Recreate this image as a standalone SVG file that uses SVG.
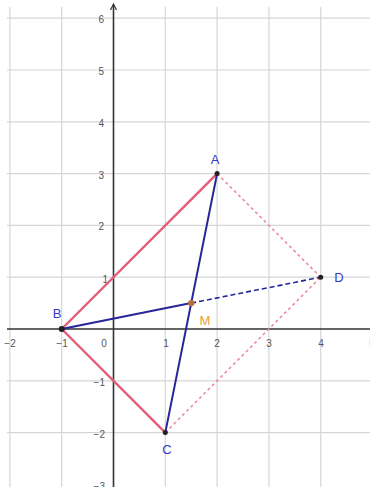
<svg xmlns="http://www.w3.org/2000/svg" width="370" height="487" viewBox="0 0 370 487">
<style>
.grid{stroke:#d6d6d6;stroke-width:1.2;fill:none}
.axis{stroke:#333;stroke-width:1.6;fill:none}
.tick{font-family:"Liberation Sans",Arial,sans-serif;font-size:10px;fill:#555}
.lbl{font-family:"Liberation Sans",Arial,sans-serif;font-size:13px;fill:#3838c8}
.red{stroke:#e35d78;stroke-width:2.4;fill:none}
.blue{stroke:#262698;stroke-width:2;fill:none}
.bluedash{stroke:#262698;stroke-width:1.6;stroke-dasharray:5 3;fill:none}
.pinkdash{stroke:#f08a9c;stroke-width:1.6;stroke-dasharray:3 3;fill:none}
.pt{fill:#222}
</style>
<rect width="370" height="487" fill="#fff"/>
<g id="grid">
<path class="grid" d="M9.9 7V487M61.7 7V487M165.3 7V487M217.1 7V487M268.9 7V487M320.7 7V487M7 18.2H370M7 70H370M7 121.8H370M7 173.6H370M7 225.4H370M7 277.2H370M7 380.8H370M7 432.6H370"/>
</g>
<g id="axes">
<path class="axis" d="M7 329H370M113.5 487V5"/>
<path d="M110.5 10 L113.5 4 L116.5 10" fill="none" stroke="#333" stroke-width="1.2"/>
<text class="tick" x="104" y="23" text-anchor="end">6</text>
<text class="tick" x="104" y="75" text-anchor="end">5</text>
<text class="tick" x="104" y="127" text-anchor="end">4</text>
<text class="tick" x="104" y="179" text-anchor="end">3</text>
<text class="tick" x="104" y="230" text-anchor="end">2</text>
<text class="tick" x="108" y="283" text-anchor="end">1</text>
<text class="tick" x="105" y="386" text-anchor="end">−1</text>
<text class="tick" x="105" y="438" text-anchor="end">−2</text>
<text class="tick" x="105" y="490" text-anchor="end">−3</text>
<text class="tick" x="10" y="347" text-anchor="middle">−2</text>
<text class="tick" x="62" y="347" text-anchor="middle">−1</text>
<text class="tick" x="104" y="347" text-anchor="middle">0</text>
<text class="tick" x="166" y="347" text-anchor="middle">1</text>
<text class="tick" x="217" y="347" text-anchor="middle">2</text>
<text class="tick" x="269" y="347" text-anchor="middle">3</text>
<text class="tick" x="321" y="347" text-anchor="middle">4</text>
<text class="tick" x="372" y="347" text-anchor="middle">5</text>
</g>
<g id="connectors">
<line class="pinkdash" x1="217.1" y1="173.6" x2="320.7" y2="277.2"/>
<line class="pinkdash" x1="165.3" y1="432.6" x2="320.7" y2="277.2"/>
<line class="red" x1="61.7" y1="329" x2="217.1" y2="173.6"/>
<line class="red" x1="61.7" y1="329" x2="165.3" y2="432.6"/>
<line class="bluedash" x1="191.2" y1="303.1" x2="320.7" y2="277.2"/>
<line class="blue" x1="61.7" y1="329" x2="191.2" y2="303.1"/>
<line class="blue" x1="217.1" y1="173.6" x2="165.3" y2="432.6"/>
</g>
<g id="A"><circle class="pt" cx="217.1" cy="173.6" r="2.5"/><text class="lbl" x="215" y="164" text-anchor="middle">A</text></g>
<g id="B"><circle class="pt" cx="61.7" cy="329" r="3"/><text class="lbl" x="57" y="318" text-anchor="middle">B</text></g>
<g id="C"><circle class="pt" cx="165.3" cy="432.6" r="2.5"/><text class="lbl" x="167" y="454" text-anchor="middle">C</text></g>
<g id="D"><circle class="pt" cx="320.7" cy="277.2" r="2.5"/><text class="lbl" x="339" y="282" text-anchor="middle">D</text></g>
<g id="M"><circle cx="191.2" cy="303.1" r="3.2" fill="#b8703a"/><text class="lbl" x="205" y="325" text-anchor="middle" fill="#eca040" style="fill:#eca040">M</text></g>
</svg>
